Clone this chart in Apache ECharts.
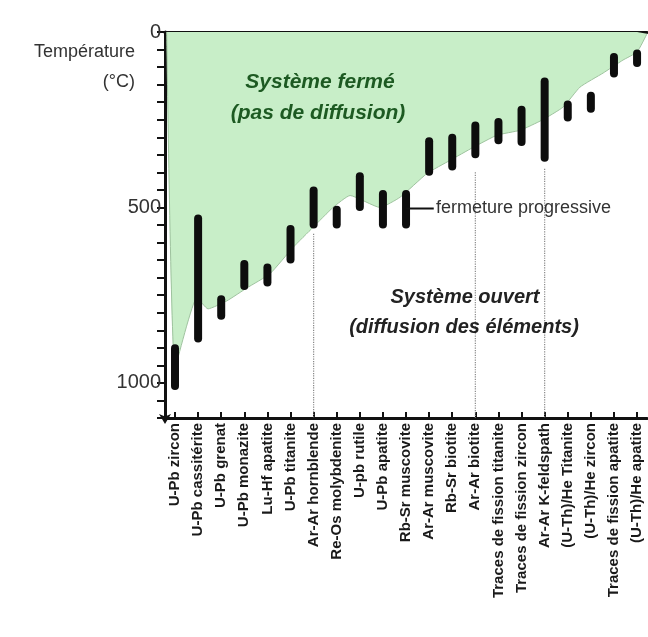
<!DOCTYPE html>
<html>
<head>
<meta charset="utf-8">
<script src="https://cdn.jsdelivr.net/npm/echarts@6/dist/echarts.min.js"></script>
<style>
  html, body { margin: 0; padding: 0; background: #fff; }
  #chart { width: 648px; height: 637px; }
</style>
</head>
<body>
<div id="chart"></div>
<script>
// systèmes isotopiques (axe x)
var categories = [
  'U-Pb zircon', 'U-Pb cassitérite', 'U-Pb grenat', 'U-Pb monazite', 'Lu-Hf apatite',
  'U-Pb titanite', 'Ar-Ar hornblende', 'Re-Os molybdenite', 'U-pb rutile', 'U-Pb apatite',
  'Rb-Sr muscovite', 'Ar-Ar muscovite', 'Rb-Sr biotite', 'Ar-Ar biotite',
  'Traces de fission titanite', 'Traces de fission zircon', 'Ar-Ar K-feldspath',
  '(U-Th)/He Titanite', '(U-Th)/He zircon', 'Traces de fission apatite', '(U-Th)/He apatite'
]
// température de fermeture, bas et haut de chaque barre (°C)
var tLow  = [890, 520, 750, 650, 660, 550, 440, 495, 400, 450, 450, 300, 290, 255, 245, 210, 130, 195, 170, 60, 50]
var tHigh = [1020, 885, 820, 735, 725, 660, 560, 560, 510, 560, 560, 410, 395, 360, 320, 325, 370, 255, 230, 130, 100]

// limite système fermé / ouvert
var curveX = [-0.36, 0, 0.95, 1.43, 2.25, 3.12, 4.11, 5.11, 5.97, 6.84, 7.58, 8.87, 9.74, 10.91, 11.9, 12.9, 13.94, 14.94, 15.89, 16.8, 17.53, 18.53, 19.39, 20, 20.43]
var curveT = [0, 957, 757, 789, 766, 729, 689, 614, 557, 500, 466, 500, 471, 403, 366, 329, 294, 280, 251, 214, 157, 117, 80, 57, 5]

// lignes pointillées
var dottedIdx = [6, 13, 16]
var dottedFrom = [575, 400, 390]

var yTicks = [0, 500, 1000]

var catIdx = categories.map(function (c, i) { return i })

var Chart = echarts.init(document.getElementById('chart'))

var series = [
  {
    type: 'line',
    data: curveX.map(function (x, i) { return [x, curveT[i]] }),
    symbol: 'none',
    smooth: 0.15,
    lineStyle: { color: '#9fc39f', width: 1 },
    areaStyle: { color: '#c8eec8', opacity: 1, origin: 'start' },
    z: 1
  },
  {
    type: 'custom',
    data: categories.map(function (c, i) { return [i, tLow[i], tHigh[i]] }),
    renderItem: function (params, api) {
      var p1 = api.coord([api.value(0), api.value(1)])
      var p2 = api.coord([api.value(0), api.value(2)])
      var w = 8
      return {
        type: 'rect',
        shape: { x: p1[0] - w / 2, y: p1[1], width: w, height: p2[1] - p1[1], r: 4 },
        style: { fill: '#0d0d0d' }
      }
    },
    z: 5
  },
  {
    // crochet "fermeture progressive"
    type: 'line',
    data: [[10, 503], [11.2, 503]],
    symbol: 'none',
    lineStyle: { color: '#111', width: 2 },
    z: 5
  }
]

dottedIdx.forEach(function (idx, k) {
  series.push({
    type: 'line',
    data: [[idx, dottedFrom[k]], [idx, 1100]],
    symbol: 'none',
    lineStyle: { color: '#888', width: 1.2, type: 'dotted' },
    z: 2
  })
})

var option = {
  animation: false,
  grid: { left: 165, top: 32, right: 1, bottom: 219 },
  xAxis: [
    {
      type: 'value',
      position: 'bottom',
      min: -0.433,
      max: 20.43,
      splitLine: { show: false },
      axisLine: { onZero: false, lineStyle: { color: '#111', width: 3 } },
      axisTick: { inside: true, length: 6, customValues: catIdx, lineStyle: { color: '#111', width: 2 } },
      axisLabel: {
        customValues: catIdx,
        rotate: 90,
        margin: 5,
        fontSize: 15,
        fontWeight: 'bold',
        fontFamily: 'Liberation Sans, Arial, sans-serif',
        color: '#1a1a1a',
        formatter: function (v) { return categories[Math.round(v)] }
      }
    },
    {
      type: 'value',
      position: 'top',
      min: -0.433,
      max: 20.43,
      splitLine: { show: false },
      axisLine: { onZero: false, lineStyle: { color: '#111', width: 3 } },
      axisTick: { inside: true, length: 5, customValues: catIdx, lineStyle: { color: '#111', width: 2 } },
      axisLabel: { show: false }
    }
  ],
  yAxis: {
    type: 'value',
    inverse: true,
    min: 0,
    max: 1100,
    interval: 50,
    splitLine: { show: false },
    axisLine: {
      onZero: false,
      lineStyle: { color: '#111', width: 3 },
      symbol: ['arrow', 'none'],
      symbolSize: [9, 10],
      symbolOffset: [-6, 0]
    },
    axisTick: { length: 8, lineStyle: { color: '#111', width: 2 } },
    axisLabel: {
      margin: 4,
      fontSize: 20,
      fontFamily: 'Liberation Sans, Arial, sans-serif',
      color: '#333',
      formatter: function (v) { return yTicks.indexOf(v) >= 0 ? String(v) : '' }
    }
  },
  graphic: [
    { type: 'text', x: 135, y: 52, style: { text: 'Température', fill: '#333', font: '18px Liberation Sans, Arial, sans-serif', align: 'right', verticalAlign: 'middle' } },
    { type: 'text', x: 135, y: 82, style: { text: '(°C)', fill: '#333', font: '18px Liberation Sans, Arial, sans-serif', align: 'right', verticalAlign: 'middle' } },
    { type: 'text', x: 320, y: 82, z: 10, style: { text: 'Système fermé', fill: '#1d5a22', font: 'italic bold 21px Liberation Sans, Arial, sans-serif', align: 'center', verticalAlign: 'middle' } },
    { type: 'text', x: 318, y: 113, z: 10, style: { text: '(pas de diffusion)', fill: '#1d5a22', font: 'italic bold 21px Liberation Sans, Arial, sans-serif', align: 'center', verticalAlign: 'middle' } },
    { type: 'text', x: 465, y: 297, z: 10, style: { text: 'Système ouvert', fill: '#222', font: 'italic bold 20px Liberation Sans, Arial, sans-serif', align: 'center', verticalAlign: 'middle' } },
    { type: 'text', x: 464, y: 327, z: 10, style: { text: '(diffusion des éléments)', fill: '#222', font: 'italic bold 20px Liberation Sans, Arial, sans-serif', align: 'center', verticalAlign: 'middle' } },
    { type: 'text', x: 436, y: 208, z: 10, style: { text: 'fermeture progressive', fill: '#333', font: '18px Liberation Sans, Arial, sans-serif', align: 'left', verticalAlign: 'middle' } }
  ],
  series: series
}
Chart.setOption(option)
</script>
</body>
</html>
